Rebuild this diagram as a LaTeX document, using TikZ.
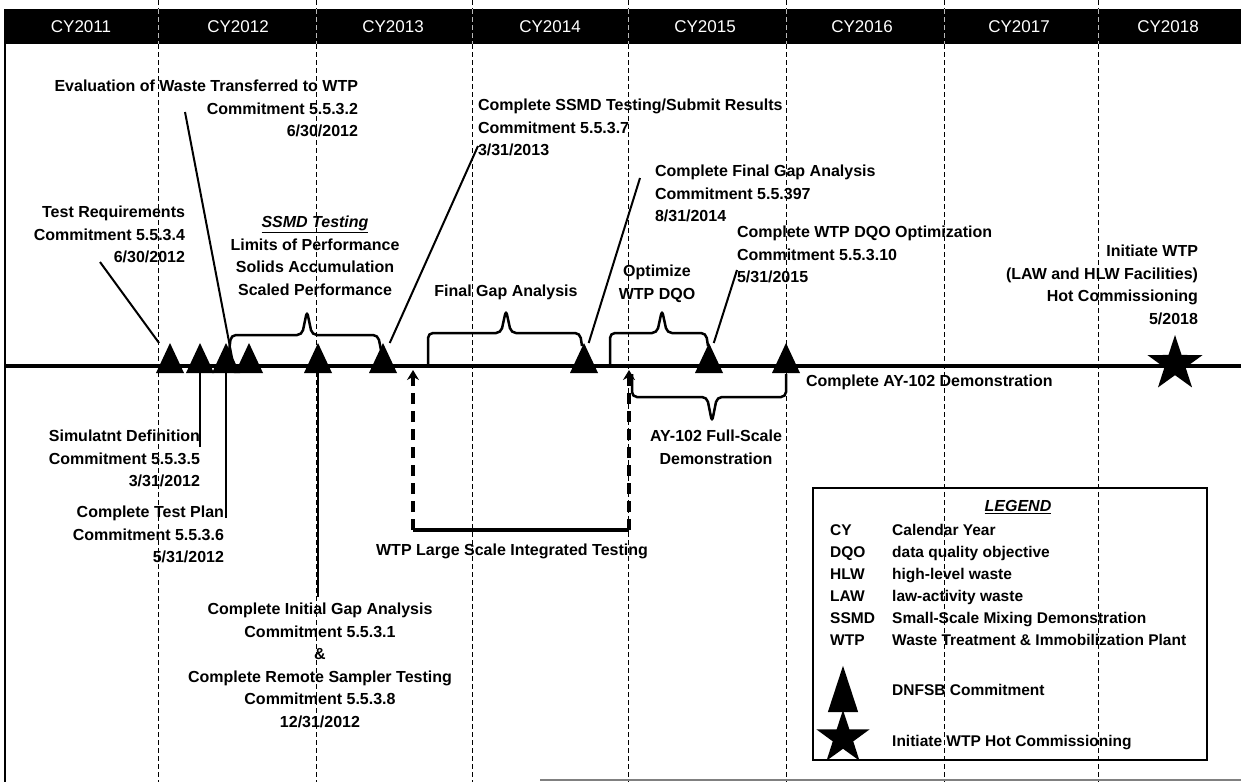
\documentclass[tikz,border=0pt]{standalone}
\usepackage{fontspec}
\setmainfont{Liberation Sans}
\usetikzlibrary{arrows.meta,shapes.geometric}
\begin{document}
\begin{tikzpicture}[x=1pt,y=-1pt,
  lbl/.style={font=\fontsize{16}{22.5}\selectfont\bfseries, inner sep=0pt, outer sep=0pt},
  lgd/.style={font=\fontsize{15.5}{20}\selectfont\bfseries, inner sep=0pt, anchor=base west},
  yr/.style={font=\fontsize{17}{20}\selectfont, text=white, inner sep=0pt},
  tribox/.style={minimum width=28pt, minimum height=30pt, inner sep=0pt, outer sep=0pt},
  leader/.style={line width=2pt},
  brace/.style={line width=2.5pt, rounded corners=5pt},
  divider/.style={line width=0.8pt, dash pattern=on 5pt off 3pt},
  dasharrow/.style={line width=3.5pt, dash pattern=on 11pt off 7pt, -{Stealth[length=10pt,width=12pt]}},
  starmark/.style={star, star points=5, star point ratio=2.6, fill=black, inner sep=0pt},
]
\useasboundingbox (0,0) rectangle (1241,782);
\fill[white] (0,0) rectangle (1241,782);

% top bar
\fill[black] (4,9) rectangle (1241,44);
\foreach \x in {158,316,472,628,786,944,1098}{
  \draw[divider,black] (\x,0) -- (\x,9);
  \draw[divider,gray!55] (\x,9) -- (\x,44);
  \draw[divider,black] (\x,44) -- (\x,782);
}
\node[yr] (y11) at (81,27) {CY2011};
\node[yr] (y12) at (238,27) {CY2012};
\node[yr] (y13) at (393,27) {CY2013};
\node[yr] (y14) at (550,27) {CY2014};
\node[yr] (y15) at (705,27) {CY2015};
\node[yr] (y16) at (862,27) {CY2016};
\node[yr] (y17) at (1019,27) {CY2017};
\node[yr] (y18) at (1168,27) {CY2018};

% left border and bottom line
\draw[line width=1.5pt] (5,44) -- (5,782);
\draw[gray, line width=1.5pt] (540,780) -- (1241,780);

% main axis
\draw[line width=3.5pt] (5,366) -- (1241,366);

% milestone triangles (nodes)
\foreach \n/\x in {t1/170,t2/200,t3/226,t4/249,t5/318,t6/383,t7/584,t8/709,t9/786}{
  \node[tribox] (\n) at (\x,358) {};
}

% text blocks
\node[lbl, align=right, anchor=north east] (eval) at (358,80)
  {Evaluation of Waste Transferred to WTP\\Commitment 5.5.3.2\\6/30/2012};
\node[lbl, align=right, anchor=north east] (treq) at (185,206)
  {Test Requirements\\Commitment 5.5.3.4\\6/30/2012};
\node[lbl, align=center, anchor=north] (ssmd) at (315,216)
  {\underline{\textit{SSMD Testing}}\\Limits of Performance\\Solids Accumulation\\Scaled Performance};
\node[lbl, align=left, anchor=north west] (cssmd) at (478,99)
  {Complete SSMD Testing/Submit Results\\Commitment 5.5.3.7\\3/31/2013};
\node[lbl, align=left, anchor=north west] (cfga) at (655,165)
  {Complete Final Gap Analysis\\Commitment 5.5.397\\8/31/2014};
\node[lbl, align=left, anchor=north west] (cdqo) at (737,226)
  {Complete WTP DQO Optimization\\Commitment 5.5.3.10\\5/31/2015};
\node[lbl, align=right, anchor=north east] (hot) at (1198,245)
  {Initiate WTP\\(LAW and HLW Facilities)\\Hot Commissioning\\5/2018};
\node[lbl] (fga) at (506,292) {Final Gap Analysis};
\node[lbl, align=center] (opt) at (657,284) {Optimize\\WTP DQO};
\node[lbl, anchor=west] (cay) at (806,382) {Complete AY-102 Demonstration};
\node[lbl, align=center, anchor=north] (ayfs) at (716,430) {AY-102 Full-Scale\\Demonstration};
\node[lbl, align=right, anchor=north east] (sim) at (200,430)
  {Simulatnt Definition\\Commitment 5.5.3.5\\3/31/2012};
\node[lbl, align=right, anchor=north east] (ctp) at (224,506)
  {Complete Test Plan\\Commitment 5.5.3.6\\5/31/2012};
\node[lbl, align=center, anchor=north] (cig) at (320,603)
  {Complete Initial Gap Analysis\\Commitment 5.5.3.1\\\&\\Complete Remote Sampler Testing\\Commitment 5.5.3.8\\12/31/2012};
\node[lbl] (lsit) at (512,551) {WTP Large Scale Integrated Testing};

% leader lines
\coordinate (trL) at (100,262);
\coordinate (evL) at (185,112);
\coordinate (csL) at (478,146);
\coordinate (fgL) at (640,178);
\coordinate (dqL) at (737,270);
\coordinate (simE) at (200,447);
\coordinate (ctpE) at (226,518);
\coordinate (cigE) at (318,597);
\draw[leader] (trL) -- (t1);
\draw[leader] (evL) -- (t4.south west);
\draw[leader] (csL) -- (t6);
\draw[leader] (fgL) -- (t7);
\draw[leader] (dqL) -- (t8);
\draw[leader] (t2) -- (simE);
\draw[leader] (t3) -- (ctpE);
\draw[leader] (t5) -- (cigE);

% braces
\draw[brace] (229,352) -- (231,335) -- (302,335) -- (307,311) -- (312,335) -- (378,335) -- (381,350);
\draw[brace] (428,364) -- (428,333) -- (501,333) -- (506,310) -- (511,333) -- (580,333) -- (582,346);
\draw[brace] (610,364) -- (610,333) -- (657,333) -- (662,310) -- (667,333) -- (706,333) -- (708,346);
\draw[brace] (632,374) -- (632,397) -- (707,397) -- (712,422) -- (717,397) -- (786,397) -- (786,374);

% large scale integrated testing
\coordinate (lsBL) at (413,530);
\coordinate (lsBR) at (629,530);
\coordinate (lsTL) at (413,370);
\coordinate (lsTR) at (629,370);
\draw[dasharrow] (lsBL) -- (lsTL);
\draw[dasharrow] (lsBR) -- (lsTR);
\draw[line width=4pt] (lsBL) -- (lsBR);

% fill triangles on top
\foreach \n in {t1,t2,t3,t4,t5,t6,t7,t8,t9}{
  \fill (\n.south west) -- (\n.south east) -- (\n.north) -- cycle;
}
% star
\node[starmark, minimum size=58pt] (st) at (1175,364) {};

% legend
\draw[line width=1.2pt] (813,488) rectangle (1207,760);
\node[lbl] (lg) at (1018,507) {\underline{\textit{LEGEND}}};
\foreach \n/\y/\a/\b in {cy/535/CY/Calendar Year, dqo/557/DQO/data quality objective, hlw/579/HLW/high-level waste, law/601/LAW/law-activity waste, ssm/623/SSMD/Small-Scale Mixing Demonstration, wtp/645/WTP/Waste Treatment \& Immobilization Plant}{
  \node[lgd] (a\n) at (830,\y) {\a};
  \node[lgd] (d\n) at (892,\y) {\b};
}
\node[minimum width=30pt, minimum height=46pt, inner sep=0pt] (ltri) at (843,689) {};
\fill (ltri.south west) -- (ltri.south east) -- (ltri.north) -- cycle;
\node[starmark, minimum size=56pt] (lstar) at (843,738) {};
\node[lgd] (ldn) at (892,695) {DNFSB Commitment};
\node[lgd] (lin) at (892,746) {Initiate WTP Hot Commissioning};
\end{tikzpicture}
\end{document}
